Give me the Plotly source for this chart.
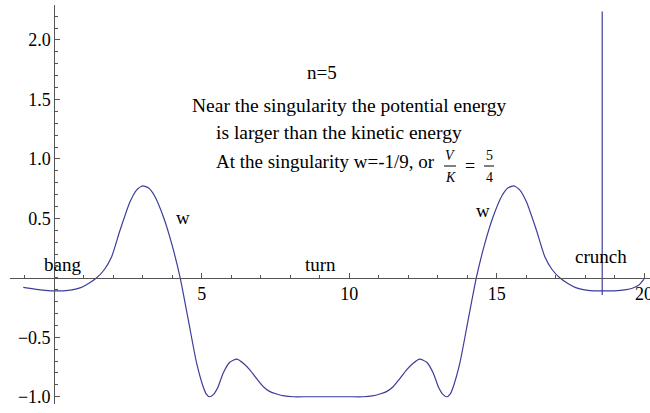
import plotly.graph_objects as go

# w(t), n=5
t = [-1.05, -0.6, -0.2, 0.0, 0.3, 0.6, 0.9, 1.15, 1.44, 1.7, 1.95, 2.23, 2.57, 2.8, 3.0,
     3.2, 3.4, 3.7, 3.98, 4.27, 4.55, 4.83, 5.05, 5.15, 5.27, 5.4, 5.55, 5.73, 5.95, 6.19,
     6.42, 6.64, 6.87, 7.09, 7.3, 7.54, 7.8, 8.1, 8.6, 9.29,
     9.98, 10.48, 10.78, 11.04, 11.28, 11.49, 11.71, 11.94, 12.16, 12.39, 12.63, 12.85,
     13.03, 13.18, 13.31, 13.43, 13.53, 13.75, 14.03, 14.31, 14.6, 14.88, 15.18, 15.38,
     15.58, 15.78, 16.01, 16.35, 16.63, 16.88, 17.14, 17.43, 17.68, 17.98, 18.28, 18.58,
     18.8, 19.1, 19.4, 19.6, 19.8, 20.0]
w = [-0.081, -0.098, -0.108, -0.110, -0.109, -0.102, -0.082, -0.050, 0.0, 0.07, 0.18, 0.40,
     0.64, 0.74, 0.773, 0.755, 0.69, 0.513, 0.289, 0.0, -0.36, -0.72, -0.916, -0.975, -1.0,
     -0.98, -0.92, -0.80, -0.71, -0.683, -0.72, -0.776, -0.85, -0.916, -0.955, -0.977,
     -0.993, -1.0, -1.0, -1.0,
     -1.0, -1.0, -0.993, -0.977, -0.955, -0.916, -0.85, -0.776, -0.72, -0.683, -0.71,
     -0.80, -0.92, -0.98, -1.0, -0.975, -0.916, -0.72, -0.36, 0.0, 0.289, 0.513, 0.69,
     0.755, 0.773, 0.74, 0.64, 0.40, 0.18, 0.07, 0.0, -0.050, -0.082, -0.102, -0.109,
     -0.110, -0.110, -0.108, -0.100, -0.088, -0.065, -0.01]

# singularity spike
spike_t = [18.58, 18.58]
spike_w = [-0.145, 2.24]

x_ticks = [5, 10, 15, 20]
y_ticks = [-1.0, -0.5, 0.5, 1.0, 1.5, 2.0]
y_labels = ['\u22121.0', '\u22120.5', '0.5', '1.0', '1.5', '2.0']

W, H = 650, 413
ML, MR, MT, MB = 10, 0, 5, 9
XR = [-1.5, 20.2]
YR = [-1.061, 2.294]
SERIF = 'Liberation Serif, Times New Roman, serif'
CURVE = '#3d3d99'
AXIS = '#555555'


def at(px, py):
    '''pixel position -> paper coordinates'''
    return (px - ML) / (W - ML - MR), (H - MB - py) / (H - MT - MB)


fig = go.Figure()
fig.add_trace(go.Scatter(x=t, y=w, mode='lines',
                         line=dict(color=CURVE, width=1.2, shape='spline', smoothing=0.6)))
fig.add_trace(go.Scatter(x=spike_t, y=spike_w, mode='lines',
                         line=dict(color=CURVE, width=1.2)))

texts = [
    ('n=5', 322, 72, 'center', 19, 'normal'),
    ('Near the singularity the potential energy', 190, 105, 'left', 19.5, 'normal'),
    ('is larger than the kinetic energy', 214, 132, 'left', 19.5, 'normal'),
    ('At the singularity w=-1/9, or', 214, 161, 'left', 19, 'normal'),
    ('V', 450, 155, 'center', 14, 'italic'),
    ('K', 450, 177, 'center', 14, 'italic'),
    ('=', 470, 166, 'center', 18, 'normal'),
    ('5', 489, 155, 'center', 14, 'normal'),
    ('4', 489, 177, 'center', 14, 'normal'),
    ('w', 183, 217, 'center', 19, 'normal'),
    ('w', 483, 210, 'center', 19, 'normal'),
    ('bang', 62, 264, 'center', 19, 'normal'),
    ('turn', 320, 264, 'center', 19, 'normal'),
    ('crunch', 601, 256, 'center', 19, 'normal'),
]
for s, px, py, anchor, size, style in texts:
    ax, ay = at(px, py)
    fig.add_annotation(x=ax, y=ay, xref='paper', yref='paper', text=s, showarrow=False,
                       xanchor=anchor, yanchor='middle',
                       font=dict(family=SERIF, size=size, color='black', style=style))

# fraction bars
for x0, x1 in [(444, 456), (484, 494)]:
    p0 = at(x0, 166)
    p1 = at(x1, 166)
    fig.add_shape(type='line', xref='paper', yref='paper', x0=p0[0], y0=p0[1], x1=p1[0], y1=p1[1],
                  line=dict(color='black', width=1))

fig.update_xaxes(range=XR, anchor='free', position=(0 - YR[0]) / (YR[1] - YR[0]), automargin=False,
                 showline=True, linecolor=AXIS, linewidth=1, showgrid=False, zeroline=False,
                 ticks='inside', ticklen=5, tickwidth=1, tickcolor=AXIS,
                 tickmode='array', tickvals=x_ticks, ticklabeloverflow='allow',
                 minor=dict(dtick=1, tick0=0, ticks='inside', ticklen=3, tickcolor=AXIS, showgrid=False),
                 tickfont=dict(family=SERIF, size=18, color='black'))
fig.update_yaxes(range=YR, anchor='free', position=(0 - XR[0]) / (XR[1] - XR[0]), automargin=False,
                 showline=True, linecolor=AXIS, linewidth=1, showgrid=False, zeroline=False,
                 ticks='inside', ticklen=5, tickwidth=1, tickcolor=AXIS,
                 tickmode='array', tickvals=y_ticks, ticktext=y_labels,
                 minor=dict(dtick=0.1, tick0=0, ticks='inside', ticklen=3, tickcolor=AXIS, showgrid=False),
                 tickfont=dict(family=SERIF, size=18, color='black'))

fig.update_layout(width=W, height=H, margin=dict(l=ML, r=MR, t=MT, b=MB),
                  font=dict(family=SERIF, color='black'),
                  plot_bgcolor='white', paper_bgcolor='white', showlegend=False)

# the page body has a default 8px margin; drop it so the figure fills the window
fig.write_html('out.html', config={'displayModeBar': False},
               post_script="document.body.style.margin='0';")
